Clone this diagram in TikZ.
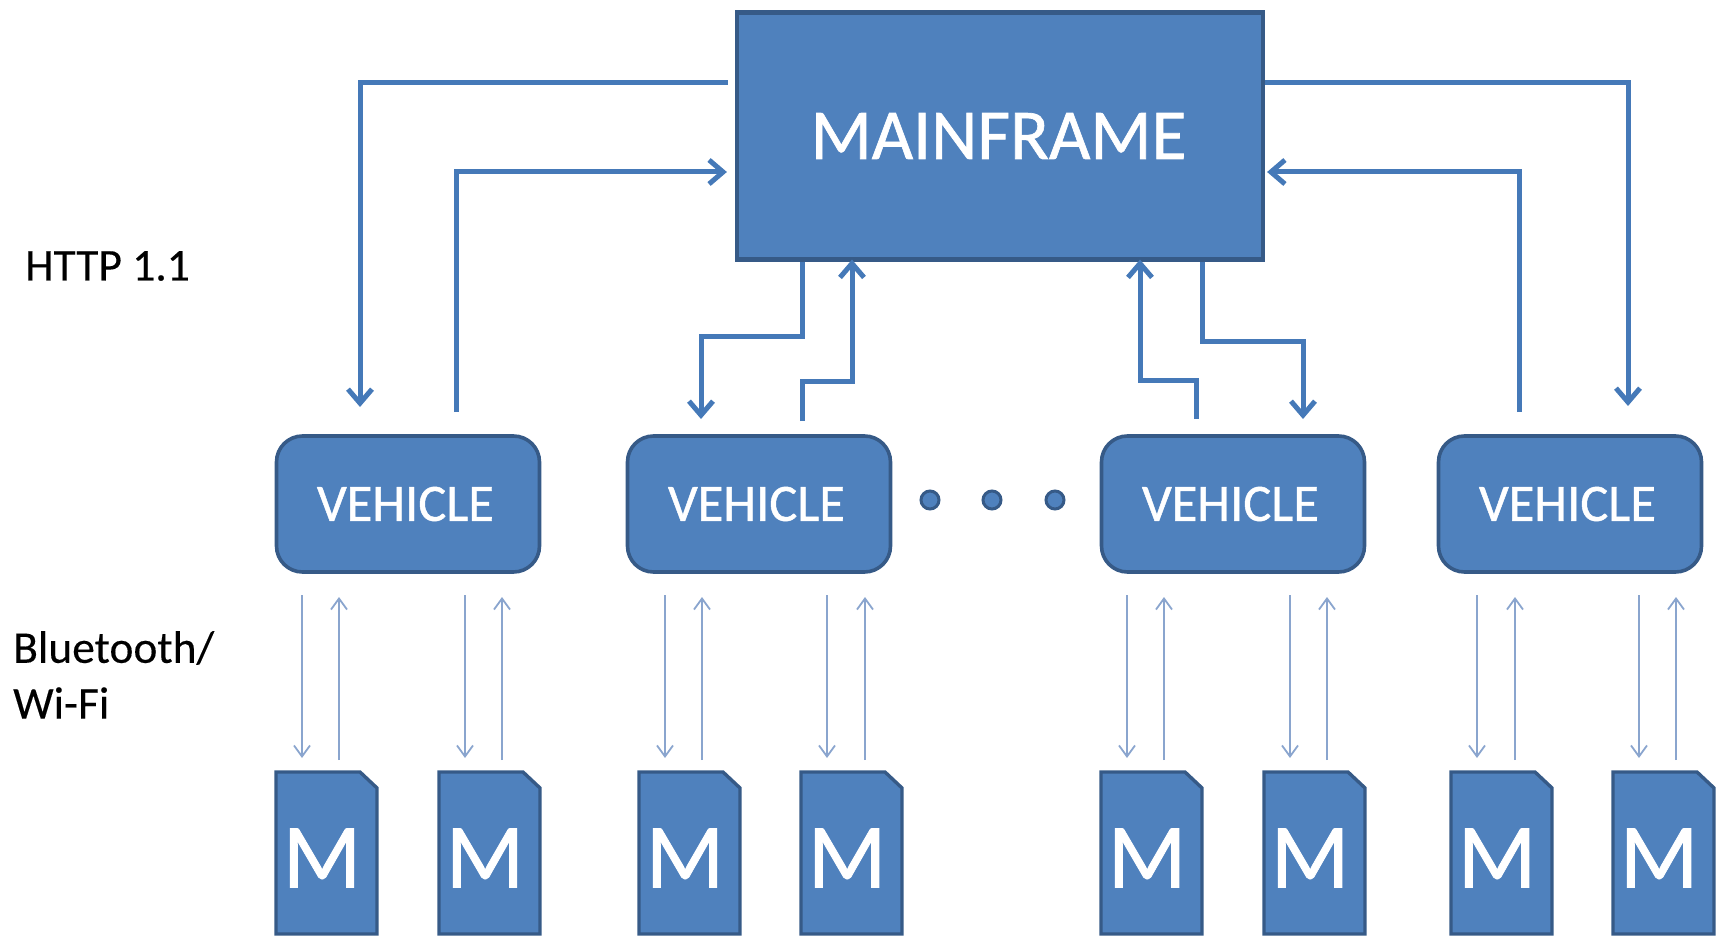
\documentclass[tikz,border=0pt]{standalone}
\usepackage{fontspec}
\setmainfont{Carlito}
\newfontfamily\boldish[FakeBold=0.9]{Carlito}
\newfontfamily\capfont[FakeBold=0.25]{Carlito}
\usetikzlibrary{arrows.meta}
\definecolor{boxfill}{HTML}{4F81BD}
\definecolor{boxline}{HTML}{365A87}
\definecolor{linkblue}{HTML}{4579B8}
\definecolor{thinblue}{HTML}{8AA5CE}
\tikzset{
  mainbox/.style={draw=boxline,line width=4.2pt,fill=boxfill,text=white,minimum width=526pt,minimum height=247pt,inner sep=0pt,font=\boldish\fontsize{71.5}{71.5}\selectfont},
  vehbox/.style={draw=boxline,line width=3.6pt,fill=boxfill,text=white,rounded corners=26pt,minimum width=263pt,minimum height=136pt,inner sep=0pt,font=\boldish\fontsize{52.5}{52.5}\selectfont},
  dotn/.style={circle,draw=boxline,line width=3pt,fill=boxfill,minimum size=18pt,inner sep=0pt},
  card/.style={draw=boxline,line width=3.4pt,fill=boxfill},
  cardtext/.style={text=white,inner sep=0pt,font=\boldish\fontsize{92}{92}\selectfont},
  biglink/.style={draw=linkblue,line width=5pt,line cap=butt,-{Straight Barb[length=14pt,width=24pt,line width=5pt]}},
  thinlink/.style={draw=thinblue,line width=1.8pt,-{Straight Barb[length=11pt,width=16pt,line width=1.8pt]}},
  caption/.style={inner sep=0pt,anchor=west,text=black,font=\capfont\fontsize{45.5}{45.5}\selectfont},
}
\newcommand{\mcard}[2]{%
  \draw[card] (#2+1,772) -- (#2+85,772) -- (#2+102,788) -- (#2+102,934) -- (#2+1,934) -- cycle;
  \node[cardtext] (#1) at (#2+47,858) {M};
}
\newcommand{\thinpair}[3]{%
  \coordinate (#1a) at (#2,595); \coordinate (#1b) at (#2,758);
  \coordinate (#1c) at (#3,597); \coordinate (#1d) at (#3,760);
  \draw[thinlink] (#1a) -- (#1b);
  \draw[thinlink] (#1d) -- (#1c);
}
\begin{document}
\begin{tikzpicture}[x=1pt,y=-1pt]
\useasboundingbox (0,0) rectangle (1717,936);
\node[mainbox] (main) at (1000,136) {MAINFRAME\kern3pt};
\node[vehbox] (v1) at (408,504) {VEHICLE\kern5pt};
\node[vehbox] (v2) at (759,504) {VEHICLE\kern5pt};
\node[vehbox] (v3) at (1233,504) {VEHICLE\kern5pt};
\node[vehbox] (v4) at (1570,504) {VEHICLE\kern5pt};
\node[dotn] (d1) at (930,500) {};
\node[dotn] (d2) at (992,500) {};
\node[dotn] (d3) at (1055,500) {};
\mcard{m1}{275}\mcard{m2}{438}\mcard{m3}{638}\mcard{m4}{800}
\mcard{m5}{1100}\mcard{m6}{1263}\mcard{m7}{1450}\mcard{m8}{1612}
\thinpair{ta}{302}{339}
\thinpair{tb}{465}{502}
\thinpair{tc}{665}{702}
\thinpair{td}{827}{865}
\thinpair{te}{1127}{1164}
\thinpair{tf}{1290}{1327}
\thinpair{tg}{1477}{1515}
\thinpair{th}{1639}{1676}
% outer left
\coordinate (a1) at (360,83); \coordinate (a2) at (360,407);
\draw[biglink] ([xshift=-7pt]main.west |- a1) -- (a1) -- (a2);
\coordinate (b1) at (456,412); \coordinate (b2) at (456,172);
\draw[biglink] (b1) -- (b2) -- ([xshift=-8pt]main.west |- b2);
% inner left
\coordinate (c1) at (802,336); \coordinate (c2) at (701,336); \coordinate (c3) at (701,419);
\draw[biglink] (main.south -| c1) -- (c1) -- (c2) -- (c3);
\coordinate (e1) at (802,421); \coordinate (e2) at (802,381); \coordinate (e3) at (852,381);
\draw[biglink] (e1) -- (e2) -- (e3) -- ([yshift=2pt]main.south -| e3);
% inner right
\coordinate (f1) at (1196,419); \coordinate (f2) at (1196,380); \coordinate (f3) at (1140,380);
\draw[biglink] (f1) -- (f2) -- (f3) -- ([yshift=2pt]main.south -| f3);
\coordinate (g1) at (1202,341); \coordinate (g2) at (1303,341); \coordinate (g3) at (1303,419);
\draw[biglink] (main.south -| g1) -- (g1) -- (g2) -- (g3);
% outer right
\coordinate (h1) at (1628,83); \coordinate (h2) at (1628,406);
\draw[biglink] (main.east |- h1) -- (h1) -- (h2);
\coordinate (i1) at (1519,412); \coordinate (i2) at (1519,172);
\draw[biglink] (i1) -- (i2) -- ([xshift=2pt]main.east |- i2);
\node[caption] (http) at (25,266) {HTTP 1.1};
\node[caption] (bt) at (13,648) {Bluetooth/};
\node[caption] (wifi) at (13,703) {Wi-Fi};
\end{tikzpicture}
\end{document}
